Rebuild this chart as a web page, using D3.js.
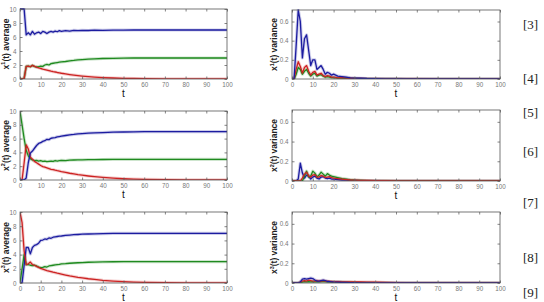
<!DOCTYPE html>
<html><head><meta charset="utf-8">
<script src="https://cdn.jsdelivr.net/npm/d3@7"></script>
<style>html,body{margin:0;padding:0;background:#fff;}svg{display:block;}</style>
</head><body><svg id="c" width="544" height="302"></svg>
<script>
// shared time grid
const T = [0,1,2,3,4,5,6,7,8,9,10,11,12,13,14,15,16,17,18,19,20,22,24,26,28,30,33,36,40,45,50,55,60,70,80,90,100];

// x^1 average
const avg1Blue  = [10,10,10,6.3,6.6,6.3,6.8,6.4,6.6,6.7,6.5,6.8,6.7,6.5,6.7,6.8,6.7,6.85,6.75,6.9,6.8,6.9,6.85,6.95,6.9,6.95,6.93,6.98,6.96,6.99,6.98,7,7,7,7,7,7];
const avg1Green = [0,0,0.1,1.8,1.85,1.75,1.95,1.8,1.7,1.75,1.85,1.8,2.0,2.1,2.0,2.2,2.25,2.3,2.35,2.4,2.45,2.5,2.6,2.65,2.72,2.78,2.83,2.88,2.93,2.96,2.98,3,3,3,3,3,3];
const avg1Red   = [0,0,0.1,1.8,1.85,1.75,1.95,1.8,1.7,1.6,1.5,1.42,1.35,1.28,1.2,1.12,1.05,1.0,0.93,0.88,0.82,0.72,0.63,0.55,0.48,0.42,0.34,0.27,0.2,0.14,0.1,0.07,0.05,0.03,0.02,0.01,0.01];
// x^2 average
const avg2Blue  = [0,0,0,0.3,2.5,3.9,4.2,4.6,5.0,5.3,5.4,5.6,5.7,5.9,5.85,6.05,6.1,6.15,6.25,6.3,6.35,6.45,6.55,6.6,6.68,6.72,6.78,6.84,6.88,6.93,6.96,6.98,7,7,7,7,7];
const avg2Green = [10,8.0,6.0,4.3,3.5,3.1,2.9,2.8,2.85,2.75,2.8,2.7,2.75,2.65,2.7,2.75,2.7,2.8,2.75,2.8,2.85,2.82,2.88,2.9,2.92,2.93,2.95,2.96,2.97,2.98,3,3,3,3,3,3,3];
const avg2Red   = [0,0,2.5,5.1,4.5,3.3,3.0,2.7,2.5,2.3,2.1,1.95,1.85,1.75,1.65,1.55,1.5,1.42,1.35,1.3,1.22,1.1,0.98,0.88,0.78,0.7,0.58,0.48,0.37,0.26,0.18,0.13,0.09,0.04,0.02,0.01,0.01];
// x^3 average
const avg3Blue  = [0,0,2.5,5.0,5.0,4.1,5.0,5.3,5.4,5.6,6.0,6.05,6.2,6.15,6.35,6.3,6.45,6.5,6.55,6.6,6.62,6.7,6.75,6.8,6.83,6.87,6.9,6.93,6.95,6.98,7,7,7,7,7,7,7];
const avg3Green = [0,2.0,4.0,2.6,2.6,2.5,2.45,2.5,2.4,2.25,2.15,2.2,2.3,2.25,2.4,2.45,2.5,2.55,2.6,2.62,2.68,2.72,2.78,2.82,2.85,2.88,2.92,2.95,2.97,2.99,3,3,3,3,3,3,3];
const avg3Red   = [10,8.5,4.5,2.6,2.7,2.95,2.6,2.5,2.35,2.2,2.05,1.95,1.85,1.75,1.68,1.6,1.52,1.45,1.38,1.32,1.25,1.12,1.0,0.9,0.8,0.72,0.6,0.5,0.38,0.27,0.19,0.13,0.09,0.04,0.02,0.01,0.01];

// x^1 variance
const var1Blue  = [0,0,0.35,0.72,0.6,0.22,0.42,0.46,0.3,0.14,0.2,0.2,0.1,0.12,0.14,0.1,0.05,0.07,0.06,0.04,0.05,0.03,0.025,0.02,0.012,0.01,0.008,0.005,0.003,0.002,0.001,0,0,0,0,0,0];
const var1Green = [0,0,0.05,0.12,0.1,0.05,0.08,0.1,0.06,0.03,0.05,0.06,0.03,0.04,0.045,0.03,0.02,0.025,0.02,0.015,0.015,0.01,0.01,0.008,0.006,0.005,0.004,0.003,0.002,0.001,0.001,0,0,0,0,0,0];
const var1Red   = [0,0,0.1,0.18,0.13,0.06,0.12,0.14,0.08,0.04,0.07,0.08,0.04,0.05,0.06,0.035,0.025,0.035,0.03,0.02,0.02,0.012,0.015,0.01,0.008,0.006,0.005,0.004,0.003,0.002,0.002,0.001,0.001,0,0,0,0];
// x^2 variance
const var2Blue  = [0,0,0,0.02,0.18,0.08,0.03,0.06,0.05,0.02,0.04,0.05,0.03,0.02,0.04,0.045,0.03,0.025,0.03,0.02,0.02,0.015,0.01,0.008,0.006,0.005,0.003,0.002,0.001,0,0,0,0,0,0,0,0];
const var2Green = [0,0,0,0,0,0,0.05,0.1,0.04,0.05,0.1,0.08,0.04,0.06,0.09,0.07,0.05,0.075,0.06,0.05,0.045,0.035,0.025,0.02,0.012,0.008,0.005,0.003,0.002,0.001,0,0,0,0,0,0,0];
const var2Red   = [0,0,0,0,0,0.03,0.07,0.09,0.05,0.04,0.06,0.065,0.04,0.04,0.055,0.05,0.035,0.04,0.045,0.035,0.03,0.025,0.02,0.015,0.01,0.008,0.006,0.005,0.004,0.003,0.002,0.001,0.001,0.001,0.001,0.001,0.001];
// x^3 variance
const var3Blue  = [0,0,0,0,0.01,0.04,0.045,0.04,0.045,0.05,0.045,0.03,0.02,0.02,0.025,0.03,0.025,0.015,0.015,0.012,0.01,0.008,0.006,0.005,0.004,0.003,0.002,0.001,0,0,0,0,0,0,0,0,0];
const var3Green = [0,0,0,0,0.005,0.01,0.015,0.012,0.015,0.012,0.015,0.012,0.015,0.012,0.014,0.015,0.013,0.012,0.011,0.01,0.01,0.009,0.008,0.007,0.006,0.005,0.004,0.003,0.002,0.001,0,0,0,0,0,0,0];
const var3Red   = [0,0,0,0,0.01,0.02,0.025,0.02,0.03,0.025,0.02,0.02,0.025,0.02,0.02,0.025,0.02,0.018,0.016,0.015,0.014,0.013,0.012,0.012,0.011,0.01,0.01,0.009,0.008,0.005,0.003,0.002,0.001,0.001,0.001,0.001,0.001];

const xTicks = [0,10,20,30,40,50,60,70,80,90,100];
const avgTicks = [0,2,4,6,8,10];
const varTicks = [0,0.2,0.4,0.6];
const refLabels = ["[3]","[4]","[5]","[6]","[7]","[8]","[9]"];

const COL = {blue:"#1c1ca0", green:"#1f8a1f", red:"#cc2222"};

const panels = [
  {x0:20, x1:227, y0:9,   y1:79,  ymax:10,   ticks:avgTicks, fmt:d=>d, sup:"1", kind:"average", series:[["green",avg1Green],["red",avg1Red],["blue",avg1Blue]]},
  {x0:292,x1:500, y0:10,  y1:79,  ymax:0.72, ticks:varTicks, fmt:d=>d, sup:"1", kind:"variance", series:[["green",var1Green],["red",var1Red],["blue",var1Blue]]},
  {x0:20, x1:227, y0:111, y1:180, ymax:10,   ticks:avgTicks, fmt:d=>d, sup:"2", kind:"average", series:[["green",avg2Green],["red",avg2Red],["blue",avg2Blue]]},
  {x0:292,x1:500, y0:110, y1:181, ymax:0.72, ticks:varTicks, fmt:d=>d, sup:"2", kind:"variance", series:[["blue",var2Blue],["green",var2Green],["red",var2Red]]},
  {x0:20, x1:227, y0:212, y1:283, ymax:10,   ticks:avgTicks, fmt:d=>d, sup:"3", kind:"average", series:[["green",avg3Green],["blue",avg3Blue],["red",avg3Red]]},
  {x0:292,x1:500, y0:212, y1:283, ymax:0.72, ticks:varTicks, fmt:d=>d, sup:"3", kind:"variance", series:[["green",var3Green],["red",var3Red],["blue",var3Blue]]}
];

const svg = d3.select("#c");
svg.append("rect").attr("width",544).attr("height",302).attr("fill","#fff");

panels.forEach(p => {
  const x = d3.scaleLinear().domain([0,100]).range([p.x0,p.x1]);
  const y = d3.scaleLinear().domain([0,p.ymax]).range([p.y1,p.y0]);
  const g = svg.append("g");
  g.append("rect").attr("x",p.x0).attr("y",p.y0).attr("width",p.x1-p.x0).attr("height",p.y1-p.y0)
    .attr("fill","#fff");

  const clipId = "clip"+p.x0+"_"+p.y0;
  svg.append("clipPath").attr("id",clipId).append("rect")
    .attr("x",p.x0).attr("y",p.y0-1).attr("width",p.x1-p.x0).attr("height",p.y1-p.y0+1);

  const line = d3.line().x((d,i)=>x(T[i])).y(d=>y(d));
  const lg = g.append("g").attr("clip-path","url(#"+clipId+")");
  p.series.forEach(([c,vals]) => {
    lg.append("path").attr("d",line(vals)).attr("fill","none").attr("stroke",COL[c])
      .attr("stroke-width",3.2).attr("stroke-opacity",0.22).attr("stroke-linejoin","round");
  });
  p.series.forEach(([c,vals]) => {
    lg.append("path").attr("d",line(vals)).attr("fill","none").attr("stroke",COL[c])
      .attr("stroke-width",1.3).attr("stroke-linejoin","round");
  });

  // axes (MATLAB style: inward ticks, box)
  const tickCol = "#666";
  const bottom = d3.axisBottom(x).tickValues(xTicks).tickSize(-2.5).tickPadding(3.5);
  const top = d3.axisTop(x).tickValues(xTicks).tickSize(-2.5).tickFormat("");
  const left = d3.axisLeft(y).tickValues(p.ticks).tickSize(-2.5).tickPadding(3.5).tickFormat(p.fmt);
  const right = d3.axisRight(y).tickValues(p.ticks).tickSize(-2.5).tickFormat("");
  [[bottom,`translate(0,${p.y1})`],[top,`translate(0,${p.y0})`],[left,`translate(${p.x0},0)`],[right,`translate(${p.x1},0)`]]
    .forEach(([ax,tr]) => {
      const a = g.append("g").attr("transform",tr).call(ax);
      a.select(".domain").remove();
      a.selectAll("line").attr("stroke",tickCol).attr("stroke-width",0.8);
      a.selectAll("text").attr("fill","#777").attr("font-family","Arial, Liberation Sans, sans-serif").attr("font-size",6.3);
    });
  g.append("rect").attr("x",p.x0).attr("y",p.y0).attr("width",p.x1-p.x0).attr("height",p.y1-p.y0)
    .attr("fill","none").attr("stroke","#555").attr("stroke-width",0.8);

  // x label
  g.append("text").attr("x",(p.x0+p.x1)/2).attr("y",p.y1+18).attr("text-anchor","middle")
    .attr("font-family","Arial, Liberation Sans, sans-serif").attr("font-size",10).attr("fill","#111").text("t");
  // y label
  const lx = p.x0 < 100 ? 8.5 : 277;
  const ly = (p.y0+p.y1)/2;
  const yt = g.append("text").attr("transform",`translate(${lx},${ly}) rotate(-90)`).attr("text-anchor","middle")
    .attr("font-family","Arial, Liberation Sans, sans-serif").attr("font-size",8.5).attr("font-weight","bold").attr("fill","#222");
  yt.append("tspan").text("x");
  yt.append("tspan").attr("dy",-3.5).attr("font-size",5.5).text(p.sup);
  yt.append("tspan").attr("dy",3.5).text("(t) " + p.kind);
});

// reference numbers at right
const refY = [29,83,117,156,207,262,297];
svg.selectAll("text.ref").data(refLabels).enter().append("text").attr("class","ref")
  .attr("x",523).attr("y",(d,i)=>refY[i]).attr("font-family","Liberation Serif, Times New Roman, serif")
  .attr("font-size",13).attr("fill","#222").text(d=>d);
</script>
</body></html>
